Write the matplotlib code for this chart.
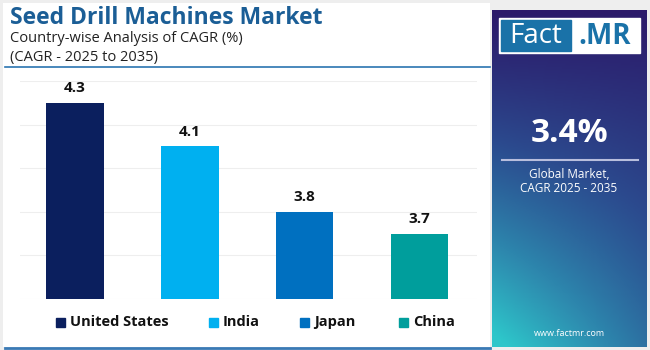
import matplotlib.pyplot as plt
import numpy as np
from matplotlib.colors import LinearSegmentedColormap
from matplotlib.patches import Rectangle

countries = ['United States', 'India', 'Japan', 'China']
cagr = [4.3, 4.1, 3.8, 3.7]
bar_colors = ['#0b1f5e', '#00b0f0', '#0070c0', '#009e9c']
global_cagr = '3.4%'

plt.rcParams['font.family'] = ['Open Sans', 'DejaVu Sans']

W, H = 650, 350
fig = plt.figure(figsize=(6.5, 3.5), dpi=100)
fig.patch.set_facecolor('#eeeeee')


def px(x0, y0, x1, y1):
    # pixel box (top-left origin) -> figure rect
    return [x0 / W, 1 - y1 / H, (x1 - x0) / W, (y1 - y0) / H]


# white left panel
bg = fig.add_axes(px(3, 3, 490, 347))
bg.set_facecolor('white')
bg.set_xticks([]); bg.set_yticks([])
for s in bg.spines.values():
    s.set_visible(False)

# header text
fig.text(10 / W, 1 - 18 / H, 'Seed Drill Machines Market', fontsize=16.5, fontweight='bold',
         color='#1b5e96', va='center', ha='left')
fig.text(10 / W, 1 - 39 / H, 'Country-wise Analysis of CAGR (%)', fontsize=10.5,
         color='#222222', va='center', ha='left')
fig.text(10 / W, 1 - 57 / H, '(CAGR - 2025 to 2035)', fontsize=10.5,
         color='#222222', va='center', ha='left')
fig.add_artist(plt.Line2D([5 / W, 490 / W], [1 - 67 / H, 1 - 67 / H], color='#2a74b0', lw=1.2))
fig.add_artist(plt.Line2D([5 / W, 490 / W], [1 - 347.5 / H, 1 - 347.5 / H], color='#3a7ab5', lw=2))

# bar chart
ax = fig.add_axes(px(20, 81, 477, 299))
x = np.arange(len(countries))
ax.bar(x, cagr, width=0.5, color=bar_colors, zorder=3)
ax.set_xlim(-0.48, 3.5)
ax.set_ylim(3.4, 4.4)
ax.set_yticks(np.arange(3.4, 4.41, 0.2))
ax.grid(axis='y', color='#eeeeee', lw=0.8, zorder=0)
ax.tick_params(left=False, bottom=False, labelleft=False, labelbottom=False)
for s in ax.spines.values():
    s.set_visible(False)
ax.set_facecolor('none')
for xi, v in zip(x, cagr):
    ax.text(xi, v + 0.035, f'{v}', ha='center', va='bottom', fontsize=11,
            fontweight='bold', color='#111111')

# legend
leg_x = [56, 209, 300, 399]
for lx, name, c in zip(leg_x, countries, bar_colors):
    fig.patches.append(Rectangle((lx / W, 1 - 327 / H), 9 / W, 9 / H, color=c,
                                 transform=fig.transFigure, figure=fig))
    fig.text((lx + 14) / W, 1 - 322 / H, name, fontsize=10.5, fontweight='bold',
             color='#111111', va='center', ha='left')

# right gradient panel
side = fig.add_axes(px(492, 10, 647, 347))
yy, xx = np.mgrid[0:1:200j, 0:1:100j]
t = np.clip(0.55 * yy + 0.5 * (1 - xx) * yy ** 1.5, 0, 1)
cmap = LinearSegmentedColormap.from_list('fm', ['#2c1a6a', '#2b4a8e', '#2d86ad', '#2ec6ca'])
side.imshow(t, cmap=cmap, aspect='auto', extent=[0, 1, 0, 1], origin='upper')
side.set_xlim(0, 1); side.set_ylim(0, 1)
side.axis('off')

# logo
fig.patches.append(Rectangle((499 / W, 1 - 53 / H), 141 / W, 35 / H, color='white',
                             transform=fig.transFigure, figure=fig))
fig.patches.append(Rectangle((501 / W, 1 - 51 / H), 70 / W, 31 / H, color='#1a72a8',
                             transform=fig.transFigure, figure=fig))
fig.text(536 / W, 1 - 36 / H, 'Fact', fontsize=20, color='white', ha='center', va='center')
fig.text(605 / W, 1 - 36 / H, '.MR', fontsize=20, fontweight='bold', color='#1a72a8',
         ha='center', va='center')

fig.text(569 / W, 1 - 134 / H, global_cagr, fontsize=24, fontweight='bold', color='white',
         ha='center', va='center')
fig.add_artist(plt.Line2D([502 / W, 638 / W], [1 - 160 / H, 1 - 160 / H], color='#b8bedd', lw=1.5))
fig.text(569 / W, 1 - 175 / H, 'Global Market,', fontsize=8.5, color='white', ha='center', va='center')
fig.text(569 / W, 1 - 189 / H, 'CAGR 2025 - 2035', fontsize=8.5, color='white', ha='center', va='center')
fig.text(569 / W, 1 - 334 / H, 'www.factmr.com', fontsize=6.5, color='white', ha='center', va='center')

fig.savefig('out.png', dpi=100)
